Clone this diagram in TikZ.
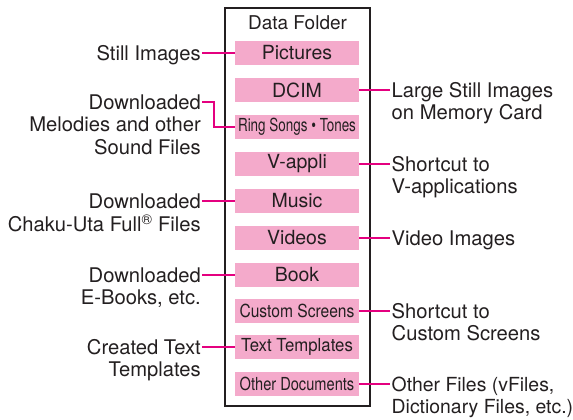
\documentclass[tikz,border=0pt]{standalone}
\usepackage{fontspec}
\setmainfont{TeX Gyre Heros}
\usetikzlibrary{calc}
\definecolor{pinkbox}{HTML}{F4AACB}
\definecolor{mag}{HTML}{E4007F}
\definecolor{ink}{HTML}{231F20}
\newcommand{\Lstack}[1]{\begin{tabular}[t]{@{}r@{}}#1\end{tabular}}
\newcommand{\Rstack}[1]{\begin{tabular}[t]{@{}l@{}}#1\end{tabular}}
\begin{document}
\begin{tikzpicture}[x=1pt,y=-1pt,
  folder/.style={fill=pinkbox,draw=none,minimum width=124pt,minimum height=24pt,inner sep=0pt,text=ink,font=\fontsize{19.5}{22}\selectfont},
  lbl/.style={inner sep=0pt,text=ink,font=\fontsize{20.2}{22.5}\selectfont},
  lblL/.style={lbl,anchor=base east},
  lblR/.style={lbl,anchor=base west},
  conn/.style={draw=mag,line width=1.5pt}]
\useasboundingbox (0,0) rectangle (573,420);
\node[draw=ink,line width=1.4pt,minimum width=145pt,minimum height=398pt,inner sep=0pt] (outer) at (297.5,207) {};
\node[inner sep=0pt,text=ink,font=\fontsize{19}{22}\selectfont] (title) at (297.5,23) {Data Folder};
% folders
\node[folder] (pic) at (297,53) {Pictures};
\node[folder] (dcim) at (297,90) {DCIM};
\node[folder] (ring) at (297,127) {\scalebox{0.69}[0.92]{Ring Songs \textbullet\ Tones}};
\node[folder] (vapp) at (297,164) {V-appli};
\node[folder] (music) at (297,201) {Music};
\node[folder] (video) at (297,238) {Videos};
\node[folder] (book) at (297,275) {Book};
\node[folder] (cust) at (297,311) {\scalebox{0.8}[0.92]{Custom Screens}};
\node[folder] (text) at (297,347) {\scalebox{0.86}[0.92]{Text Templates}};
\node[folder] (other) at (297,384) {\scalebox{0.75}[0.92]{Other Documents}};
% anchor coordinates for labels
\coordinate (aStill) at (202,53);
\coordinate (aMel) at (202,102);
\coordinate (aChaku) at (202,201);
\coordinate (aBook) at (202,275);
\coordinate (aText) at (202,347);
\coordinate (aDcim) at (390,90);
\coordinate (aVapp) at (390,164);
\coordinate (aVideo) at (390,238);
\coordinate (aCust) at (390,311);
\coordinate (aOther) at (390,384);
% left labels
\node[lblL] (lStill) at ([xshift=-1pt,yshift=-7pt]aStill) {Still Images};
\node[lblL] (lMel) at ([xshift=-1pt,yshift=-7pt]aMel) {\Lstack{Downloaded\\Melodies and other\\Sound Files}};
\node[lblL] (lChaku) at ([xshift=-1pt,yshift=-7pt]aChaku) {\Lstack{Downloaded\\Chaku-Uta Full\textsuperscript{®} Files}};
\node[lblL] (lBook) at ([xshift=-1pt,yshift=-7pt]aBook) {\Lstack{Downloaded\\E-Books, etc.}};
\node[lblL] (lText) at ([xshift=-1pt,yshift=-7pt]aText) {\Lstack{Created Text\\Templates}};
% right labels
\node[lblR] (lDcim) at ([xshift=1.5pt,yshift=-7pt]aDcim) {\Rstack{Large Still Images\\on Memory Card}};
\node[lblR] (lVapp) at ([xshift=1.5pt,yshift=-7pt]aVapp) {\Rstack{Shortcut to\\V-applications}};
\node[lblR] (lVideo) at ([xshift=1.5pt,yshift=-7pt]aVideo) {Video Images};
\node[lblR] (lCust) at ([xshift=1.5pt,yshift=-7pt]aCust) {\Rstack{Shortcut to\\Custom Screens}};
\node[lblR,font=\fontsize{19.4}{22.5}\selectfont] (lOther) at ([xshift=1.5pt,yshift=-7pt]aOther) {\Rstack{Other Files (vFiles,\\Dictionary Files, etc.)}};
% connectors
\draw[conn] (aStill) -- (pic.west);
\draw[conn] (aMel) -- ++(12,0) |- (ring.west);
\draw[conn] (aChaku) -- (music.west);
\draw[conn] (aBook) -- (book.west);
\draw[conn] (aText) -- (text.west);
\draw[conn] (dcim.east) -- (aDcim);
\draw[conn] (vapp.east) -- (aVapp);
\draw[conn] (video.east) -- (aVideo);
\draw[conn] (cust.east) -- (aCust);
\draw[conn] (other.east) -- (aOther);
\end{tikzpicture}
\end{document}
